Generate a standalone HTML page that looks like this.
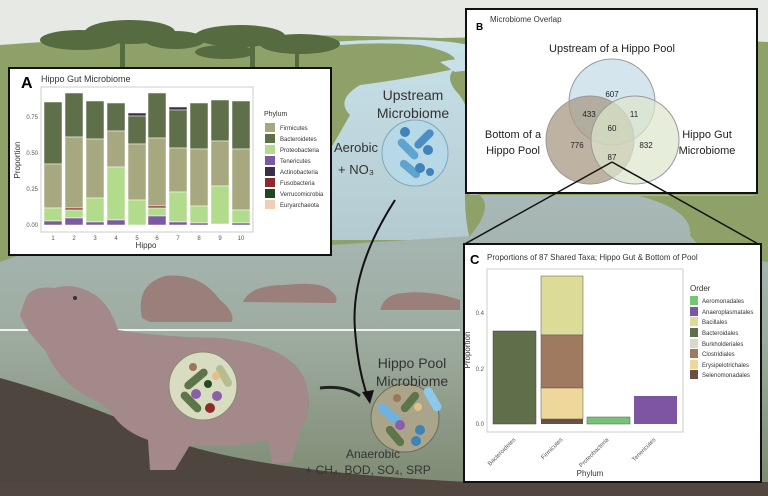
<!DOCTYPE html>
<html><head><meta charset="utf-8"><style>
html,body{margin:0;padding:0;background:#fff}
svg{display:block}
text{font-family:"Liberation Sans",sans-serif}
</style></head><body>
<svg width="768" height="496" viewBox="0 0 768 496" xmlns="http://www.w3.org/2000/svg">
<defs>
<linearGradient id="lake" x1="0" y1="0" x2="0" y2="1">
<stop offset="0" stop-color="#a9b9b8"/><stop offset="0.5" stop-color="#9dab9f"/><stop offset="1" stop-color="#7c886f"/>
</linearGradient>
<linearGradient id="river" x1="0" y1="0" x2="0" y2="1">
<stop offset="0" stop-color="#c8e0e8"/><stop offset="1" stop-color="#b3cbd0"/>
</linearGradient>
</defs>
<rect width="768" height="496" fill="#e6e9e4"/>
<path d="M0 45 Q200 30 440 38 Q600 35 768 42 L768 496 L0 496Z" fill="#8da169"/>
<path d="M300 50 Q360 40 420 45 Q470 55 450 70 Q400 80 360 85 Q335 100 350 115 L330 150 L330 240 L470 240 Q460 200 470 150 Q475 110 455 90 Q440 70 470 62 Q500 55 480 48 Q440 35 330 42Z" fill="url(#river)"/>
<path d="M440 62 Q470 55 520 60 L520 70 Q480 68 455 72Z" fill="#c8e0e8"/>
<path d="M0 262 Q60 238 120 250 L330 245 L470 236 Q500 200 470 190 L470 195 L760 195 Q700 200 690 235 Q700 255 768 260 L768 496 L0 496Z" fill="url(#lake)"/>
<path d="M640 196 L768 196 L768 262 Q700 255 690 232 Q690 210 640 196Z" fill="#8da169"/>
<g fill="#566b40">
<ellipse cx="80" cy="40" rx="40" ry="10"/><ellipse cx="130" cy="32" rx="45" ry="12"/><ellipse cx="175" cy="40" rx="30" ry="9"/>
<ellipse cx="240" cy="36" rx="45" ry="11"/><ellipse cx="300" cy="44" rx="40" ry="10"/><ellipse cx="225" cy="52" rx="30" ry="7"/>
<rect x="120" y="40" width="5" height="28"/><rect x="250" y="44" width="5" height="24"/><rect x="295" y="50" width="4" height="18"/>
</g>
<path d="M0 378 Q80 400 170 440 Q260 472 470 482 L470 496 L0 496Z" fill="#4f453f"/>
<rect x="0" y="482" width="768" height="14" fill="#514640"/>
<g fill="#9a7f7a">
<path d="M142 318 Q135 285 165 276 Q200 272 220 300 Q235 312 232 322 L150 322Z"/>
<path d="M243 302 Q250 285 285 285 Q320 281 330 290 Q340 298 335 303Z"/>
<path d="M380 310 Q385 293 405 293 Q430 290 460 300 L460 310Z"/>
</g>
<rect x="0" y="329" width="460" height="2" fill="#eef2f0"/>
<path d="M25 300 Q30 285 55 288 Q75 282 95 295 Q110 305 118 330 Q160 337 220 338 Q290 345 305 380 Q315 410 300 430 L292 462 L272 464 L268 440 Q230 448 190 445 L175 470 L150 470 L148 440 Q120 430 110 410 L95 400 Q60 385 45 350 Q25 330 20 315Z" fill="#a3898a"/>
<circle cx="75" cy="298" r="2" fill="#333"/>
<circle cx="203" cy="386" r="34" fill="#d8dcc0" stroke="#8a8a70"/>
<rect x="182" y="375" width="28" height="8" rx="4" fill="#5d7548" transform="rotate(-40 196 379)"/>
<rect x="178" y="398" width="26" height="8" rx="4" fill="#5d7548" transform="rotate(45 191 402)"/>
<rect x="212" y="372" width="24" height="8" rx="4" fill="#b7bb8e" transform="rotate(60 224 376)"/>
<circle cx="193" cy="367" r="4" fill="#9b7658"/><circle cx="216" cy="376" r="4" fill="#e0c18a"/>
<circle cx="208" cy="384" r="4" fill="#264b24"/><circle cx="196" cy="394" r="5" fill="#8b5fa8"/>
<circle cx="217" cy="396" r="5" fill="#8b5fa8"/><circle cx="210" cy="408" r="5" fill="#8e2a2a"/>
<circle cx="415" cy="153" r="33" fill="#b7d8e6" stroke="#7ea9bc"/>
<rect x="395" y="145" width="26" height="8" rx="4" fill="#5fa3cf" transform="rotate(45 408 149)"/>
<rect x="412" y="135" width="24" height="8" rx="4" fill="#4a8ec4" transform="rotate(-45 424 139)"/>
<rect x="398" y="165" width="24" height="8" rx="4" fill="#5fa3cf" transform="rotate(40 410 169)"/>
<circle cx="405" cy="132" r="5" fill="#3f83b8"/><circle cx="428" cy="150" r="5" fill="#3f83b8"/><circle cx="420" cy="168" r="5" fill="#3f83b8"/><circle cx="430" cy="172" r="4" fill="#3f83b8"/>
<circle cx="405" cy="418" r="34" fill="#a9a48a" stroke="#6e6a55"/>
<rect x="376" y="410" width="28" height="9" rx="4" fill="#6eb3e0" transform="rotate(40 390 414)"/>
<rect x="420" y="395" width="26" height="9" rx="4" fill="#8cc9ea" transform="rotate(60 433 399)"/>
<rect x="398" y="398" width="24" height="8" rx="4" fill="#5d7548" transform="rotate(-50 410 402)"/>
<rect x="383" y="432" width="24" height="8" rx="4" fill="#5d7548" transform="rotate(50 395 436)"/>
<circle cx="397" cy="398" r="4" fill="#9b7658"/><circle cx="418" cy="407" r="4" fill="#e0c18a"/><circle cx="400" cy="425" r="5" fill="#8b5fa8"/>
<circle cx="420" cy="430" r="5" fill="#3f83b8"/><circle cx="416" cy="441" r="5" fill="#3f83b8"/>
<path d="M395 200 Q350 270 355 330 Q358 370 368 398" fill="none" stroke="#111" stroke-width="2"/>
<path d="M362 392 L370 404 L374 390Z" fill="#111"/>
<path d="M320 388 Q345 385 360 396" fill="none" stroke="#222" stroke-width="3"/>
<g font-size="14" fill="#333" text-anchor="middle">
<text x="413" y="100">Upstream</text><text x="413" y="118">Microbiome</text>
<text x="356" y="152" font-size="13">Aerobic</text><text x="356" y="174" font-size="13">+ NO₃</text>
<text x="412" y="368">Hippo Pool</text><text x="412" y="386">Microbiome</text>
<text x="373" y="458" font-size="12">Anaerobic</text>
<text x="368" y="474" font-size="12">+ CH₄, BOD, SO₄, SRP</text>
</g>
<rect x="9" y="68" width="322" height="187" fill="#fff" stroke="#111" stroke-width="2"/>
<text x="21" y="88" font-size="16" font-weight="bold">A</text>
<text x="41" y="82" font-size="9" fill="#333">Hippo Gut Microbiome</text>
<rect x="41" y="87" width="212" height="145" fill="#fff" stroke="#ccc"/>
<g font-size="6" fill="#555" text-anchor="end">
<text x="38" y="227">0.00</text><text x="38" y="191">0.25</text><text x="38" y="155">0.50</text><text x="38" y="119">0.75</text>
</g>
<text x="20" y="160" font-size="8" fill="#333" transform="rotate(-90 20 160)" text-anchor="middle">Proportion</text>
<text x="146" y="248" font-size="8" fill="#333" text-anchor="middle">Hippo</text>
<g font-size="6" fill="#555" text-anchor="middle">
<text x="53" y="240">1</text><text x="74" y="240">2</text><text x="95" y="240">3</text><text x="116" y="240">4</text><text x="137" y="240">5</text><text x="157" y="240">6</text><text x="178" y="240">7</text><text x="199" y="240">8</text><text x="220" y="240">9</text><text x="241" y="240">10</text>
</g>
<g font-size="6" fill="#333">
<text x="264" y="116" font-size="7">Phylum</text>
<rect x="265" y="123" width="10" height="9" fill="#a8a880"/><text x="280" y="130">Firmicutes</text>
<rect x="265" y="134" width="10" height="9" fill="#5e6f4a"/><text x="280" y="141">Bacteroidetes</text>
<rect x="265" y="145" width="10" height="9" fill="#b2dc8c"/><text x="280" y="152">Proteobacteria</text>
<rect x="265" y="156" width="10" height="9" fill="#7a5aa0"/><text x="280" y="163">Tenericutes</text>
<rect x="265" y="167" width="10" height="9" fill="#3a2e48"/><text x="280" y="174">Actinobacteria</text>
<rect x="265" y="178" width="10" height="9" fill="#8e2a2a"/><text x="280" y="185">Fusobacteria</text>
<rect x="265" y="189" width="10" height="9" fill="#1f4720"/><text x="280" y="196">Verrucomicrobia</text>
<rect x="265" y="200" width="10" height="9" fill="#f2cdb5"/><text x="280" y="207">Euryarchaeota</text>
</g>
<rect x="466" y="9" width="291" height="184" fill="#fff" stroke="#111" stroke-width="2"/>
<text x="476" y="30" font-size="10" font-weight="bold">B</text>
<text x="490" y="22" font-size="8" fill="#333">Microbiome Overlap</text>
<circle cx="612" cy="102" r="43" fill="#c9dfe8" fill-opacity="0.8" stroke="#999"/>
<circle cx="590" cy="140" r="44" fill="#a89a84" fill-opacity="0.75" stroke="#999"/>
<circle cx="635" cy="140" r="44" fill="#dde6cc" fill-opacity="0.7" stroke="#999"/>
<g font-size="11" fill="#222" text-anchor="middle">
<text x="612" y="52">Upstream of a Hippo Pool</text>
<text x="513" y="138">Bottom of a</text><text x="513" y="154">Hippo Pool</text>
<text x="707" y="138">Hippo Gut</text><text x="707" y="154">Microbiome</text>
</g>
<g font-size="8" fill="#222" text-anchor="middle">
<text x="612" y="97">607</text><text x="589" y="117">433</text><text x="634" y="117">11</text><text x="612" y="131">60</text>
<text x="577" y="148">776</text><text x="646" y="148">832</text><text x="612" y="160">87</text>
</g>
<path d="M612 162 L463 245 M612 162 L760 245" stroke="#111" stroke-width="1.5" fill="none"/>
<rect x="464" y="244" width="297" height="238" fill="#fff" stroke="#111" stroke-width="2"/>
<text x="470" y="264" font-size="13" font-weight="bold">C</text>
<text x="487" y="260" font-size="8" fill="#333">Proportions of 87 Shared Taxa; Hippo Gut &amp; Bottom of Pool</text>
<rect x="487" y="269" width="196" height="163" fill="#fff" stroke="#ccc"/>
<g font-size="6" fill="#555" text-anchor="end"><text x="484" y="426">0.0</text><text x="484" y="371">0.2</text><text x="484" y="315">0.4</text></g>
<text x="470" y="350" font-size="8" fill="#333" transform="rotate(-90 470 350)" text-anchor="middle">Proportion</text>
<rect x="493" y="331" width="43" height="93" fill="#5e6f4a" stroke="#444" stroke-width="0.5"/>
<rect x="541" y="276" width="42" height="59" fill="#dcdc98" stroke="#555" stroke-width="0.5"/>
<rect x="541" y="335" width="42" height="53" fill="#a07a60" stroke="#555" stroke-width="0.5"/>
<rect x="541" y="388" width="42" height="31" fill="#eed79a" stroke="#555" stroke-width="0.5"/>
<rect x="541" y="419" width="42" height="5" fill="#6a5044"/>
<rect x="587" y="417" width="43" height="7" fill="#74c674" stroke="#555" stroke-width="0.5"/>
<rect x="634" y="396" width="43" height="28" fill="#7c56a0"/>
<g font-size="6" fill="#555" text-anchor="end">
<text transform="translate(516 440) rotate(-45)">Bacteroidetes</text>
<text transform="translate(563 440) rotate(-45)">Firmicutes</text>
<text transform="translate(609 440) rotate(-45)">Proteobacteria</text>
<text transform="translate(656 440) rotate(-45)">Tenericutes</text>
</g>
<text x="590" y="476" font-size="8" fill="#333" text-anchor="middle">Phylum</text>
<g font-size="6" fill="#333">
<text x="690" y="291" font-size="8">Order</text>
<rect x="690" y="296" width="8" height="9" fill="#74c674"/><text x="702" y="303">Aeromonadales</text>
<rect x="690" y="307" width="8" height="9" fill="#7c56a0"/><text x="702" y="314">Anaeroplasmatales</text>
<rect x="690" y="317" width="8" height="9" fill="#dcdc98"/><text x="702" y="324">Bacillales</text>
<rect x="690" y="328" width="8" height="9" fill="#5e6f4a"/><text x="702" y="335">Bacteroidales</text>
<rect x="690" y="339" width="8" height="9" fill="#d8d8d0"/><text x="702" y="346">Burkholderiales</text>
<rect x="690" y="349" width="8" height="9" fill="#a07a60"/><text x="702" y="356">Clostridiales</text>
<rect x="690" y="360" width="8" height="9" fill="#eed79a"/><text x="702" y="367">Erysipelotrichales</text>
<rect x="690" y="370" width="8" height="9" fill="#6a5044"/><text x="702" y="377">Selenomonadales</text>
</g>
<g stroke="#fff" stroke-width="0.5">
<rect x="44" y="102" width="18" height="62" fill="#5e6f4a"/><rect x="44" y="164" width="18" height="44" fill="#a8a880"/><rect x="44" y="208" width="18" height="13" fill="#b2dc8c"/><rect x="44" y="221" width="18" height="4" fill="#7a5aa0"/>
<rect x="65" y="93" width="18" height="44" fill="#5e6f4a"/><rect x="65" y="137" width="18" height="71" fill="#a8a880"/><rect x="65" y="208" width="18" height="2" fill="#8e2a2a"/><rect x="65" y="210" width="18" height="8" fill="#b2dc8c"/><rect x="65" y="218" width="18" height="7" fill="#7a5aa0"/>
<rect x="86" y="101" width="18" height="38" fill="#5e6f4a"/><rect x="86" y="139" width="18" height="59" fill="#a8a880"/><rect x="86" y="198" width="18" height="24" fill="#b2dc8c"/><rect x="86" y="222" width="18" height="3" fill="#7a5aa0"/>
<rect x="107" y="103" width="18" height="28" fill="#5e6f4a"/><rect x="107" y="131" width="18" height="36" fill="#a8a880"/><rect x="107" y="167" width="18" height="53" fill="#b2dc8c"/><rect x="107" y="220" width="18" height="5" fill="#7a5aa0"/>
<rect x="128" y="113" width="18" height="3" fill="#3a2e48"/><rect x="128" y="116" width="18" height="28" fill="#5e6f4a"/><rect x="128" y="144" width="18" height="56" fill="#a8a880"/><rect x="128" y="200" width="18" height="25" fill="#b2dc8c"/>
<rect x="148" y="93" width="18" height="45" fill="#5e6f4a"/><rect x="148" y="138" width="18" height="68" fill="#a8a880"/><rect x="148" y="206" width="18" height="2" fill="#8e2a2a"/><rect x="148" y="208" width="18" height="8" fill="#b2dc8c"/><rect x="148" y="216" width="18" height="9" fill="#7a5aa0"/>
<rect x="169" y="107" width="18" height="3" fill="#3a2e48"/><rect x="169" y="110" width="18" height="38" fill="#5e6f4a"/><rect x="169" y="148" width="18" height="44" fill="#a8a880"/><rect x="169" y="192" width="18" height="30" fill="#b2dc8c"/><rect x="169" y="222" width="18" height="3" fill="#7a5aa0"/>
<rect x="190" y="103" width="18" height="46" fill="#5e6f4a"/><rect x="190" y="149" width="18" height="57" fill="#a8a880"/><rect x="190" y="206" width="18" height="17" fill="#b2dc8c"/><rect x="190" y="223" width="18" height="2" fill="#7a5aa0"/>
<rect x="211" y="100" width="18" height="41" fill="#5e6f4a"/><rect x="211" y="141" width="18" height="45" fill="#a8a880"/><rect x="211" y="186" width="18" height="38" fill="#b2dc8c"/>
<rect x="232" y="101" width="18" height="48" fill="#5e6f4a"/><rect x="232" y="149" width="18" height="61" fill="#a8a880"/><rect x="232" y="210" width="18" height="13" fill="#b2dc8c"/><rect x="232" y="223" width="18" height="2" fill="#7a5aa0"/>
</g>
</svg>
</body></html>
